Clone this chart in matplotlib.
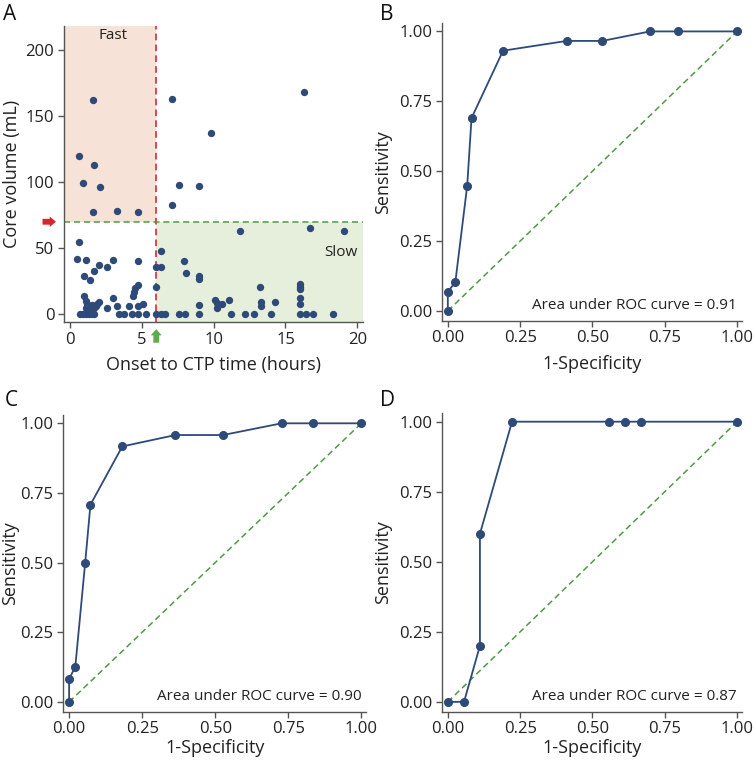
import numpy as np
import matplotlib.pyplot as plt

plt.rcParams['font.family'] = ['Open Sans', 'DejaVu Sans']

navy = "#2d4a78"
green_line = "#4f9a45"
red_line = "#d42a38"

# panel A: onset to CTP time (hours) vs core volume (mL)
onset_hours = [
    1.6, 0.6, 1.7, 0.9, 2.05, 1.6, 3.3, 4.7, 7.1, 16.3, 9.8, 7.6, 9.0, 7.1,
    0.6, 11.8, 16.7, 19.1,
    0.45, 1.1, 3.0, 4.7, 2.0, 2.6, 1.7, 1.0, 1.4,
    6.0, 6.3, 6.3, 6.0, 7.9, 8.1, 9.0, 9.0,
    4.7, 4.5, 4.45, 4.4, 1.0, 3.0, 5.1,
    13.2, 16.0, 16.0, 16.0, 16.0, 16.0,
    10.1, 10.2, 10.2, 10.6, 11.1, 13.3, 13.3, 14.3, 9.0,
    1.1, 1.2, 1.3, 1.1, 1.4, 1.5, 1.7, 1.8, 1.9, 2.0, 1.2,
    2.6, 3.3, 4.1, 4.7,
    0.7, 0.9, 1.1, 1.3, 1.5, 1.7, 3.4, 3.75, 4.3, 4.7, 5.3, 6.0, 6.3, 6.6,
    7.6, 8.0, 9.0, 11.2, 12.2, 12.8, 14.0, 16.0, 16.4, 16.9, 18.3,
]
core_volume = [
    162, 120, 113, 99, 96, 77, 78, 77, 163, 168, 137, 98, 97, 83,
    55, 63, 65, 63,
    42, 41, 41, 40, 37, 36, 33, 29, 26,
    36, 36, 48, 21, 40, 31, 29, 27,
    22, 20, 17, 14, 14, 12, 8,
    21, 23, 21, 19, 12, 8,
    11, 8.5, 5, 8, 11, 9.5, 6.5, 9, 7,
    10, 8, 6, 5, 4, 7, 5, 6.5, 8, 9, 3,
    5, 6, 6, 6,
    0, 0, 0, 0, 0, 0, 0, 0, 0, 0, 0, 0, 0, 0,
    0, 0, 0, 0, 0, 0, 0, 0, 0, 0, 0,
]
time_cut = 6
volume_cut = 70

# ROC curves
fpr_b = [0, 0, 0.026, 0.067, 0.082, 0.191, 0.411, 0.534, 0.699, 0.795, 1.0]
tpr_b = [0, 0.069, 0.103, 0.448, 0.69, 0.931, 0.966, 0.966, 1.0, 1.0, 1.0]
auc_b = "0.91"

fpr_c = [0, 0, 0.021, 0.055, 0.073, 0.182, 0.364, 0.527, 0.727, 0.836, 1.0]
tpr_c = [0, 0.083, 0.125, 0.5, 0.708, 0.917, 0.958, 0.958, 1.0, 1.0, 1.0]
auc_c = "0.90"

fpr_d = [0, 0.056, 0.111, 0.111, 0.222, 0.556, 0.611, 0.667, 1.0]
tpr_d = [0, 0, 0.2, 0.6, 1.0, 1.0, 1.0, 1.0, 1.0]
auc_d = "0.87"

roc_ticks = [0, 0.25, 0.5, 0.75, 1.0]


def style_axes(ax):
    for s in ["top", "right"]:
        ax.spines[s].set_visible(False)
    for s in ["left", "bottom"]:
        ax.spines[s].set_color("#555555")
        ax.spines[s].set_linewidth(1.0)
    ax.tick_params(direction="out", length=4.5, width=1, color="#555555",
                   labelsize=12, labelcolor="#222222", pad=2.5)


def roc_panel(ax, fpr, tpr, auc, xlabpad, ylabpad):
    ax.plot([0, 1], [0, 1], ls=(0, (4, 2.5)), color=green_line, lw=1.1)
    ax.plot(fpr, tpr, color=navy, lw=1.3, marker="o", ms=5.5)
    ax.set_xlim(-0.02, 1.016)
    ax.set_ylim(-0.035, 1.03)
    ax.set_xticks(roc_ticks)
    ax.set_yticks(roc_ticks)
    ax.set_xticklabels(["%.2f" % t for t in roc_ticks])
    ax.set_yticklabels(["%.2f" % t for t in roc_ticks])
    ax.set_xlabel("1-Specificity", fontsize=13, color="#222222", labelpad=xlabpad)
    ax.set_ylabel("Sensitivity", fontsize=13, color="#222222", labelpad=ylabpad)
    ax.text(1.0, 0.02, "Area under ROC curve = " + auc, ha="right", va="center",
            fontsize=11, color="#222222")
    style_axes(ax)


fig = plt.figure(figsize=(7.56, 7.6), dpi=100)
axA = fig.add_axes([0.0847, 0.5763, 0.3955, 0.3895])
axB = fig.add_axes([0.5847, 0.578, 0.3964, 0.3917])
axC = fig.add_axes([0.0837, 0.0636, 0.4004, 0.3904])
axD = fig.add_axes([0.5847, 0.0636, 0.3964, 0.3926])

# panel A
xlo, xhi = -0.42, 20.4
ylo, yhi = -5.8, 218
axA.fill_between([xlo, time_cut], volume_cut, yhi, color="#f6e2d6", lw=0)
axA.fill_between([time_cut, xhi], ylo, volume_cut, color="#e6eedc", lw=0)
axA.axvline(time_cut, color=red_line, ls=(0, (4, 2.5)), lw=1.2)
axA.axhline(volume_cut, color=green_line, ls=(0, (4, 2.5)), lw=1.1)
axA.scatter(onset_hours, core_volume, s=28, color=navy, zorder=3, lw=0)
axA.set_xlim(xlo, xhi)
axA.set_ylim(ylo, yhi)
axA.set_xticks([0, 5, 10, 15, 20])
axA.set_yticks([0, 50, 100, 150, 200])
axA.set_xlabel("Onset to CTP time (hours)", fontsize=13, color="#222222", labelpad=6)
axA.set_ylabel("Core volume (mL)", fontsize=13, color="#222222", labelpad=3)
axA.text(3.0, 211, "Fast", ha="center", va="center", fontsize=11, color="#222222")
axA.text(20.0, 47, "Slow", ha="right", va="center", fontsize=11, color="#222222")
style_axes(axA)

# threshold arrows outside the axes
axA.annotate("", xy=(-0.027, volume_cut), xycoords=("axes fraction", "data"),
             xytext=(-0.072, volume_cut), textcoords=("axes fraction", "data"),
             arrowprops=dict(arrowstyle="simple,head_length=0.45,head_width=0.75,tail_width=0.42",
                             color="#d7262b", shrinkA=0, shrinkB=0, lw=0),
             annotation_clip=False)
axA.annotate("", xy=(time_cut, -0.024), xycoords=("data", "axes fraction"),
             xytext=(time_cut, -0.07), textcoords=("data", "axes fraction"),
             arrowprops=dict(arrowstyle="simple,head_length=0.45,head_width=0.8,tail_width=0.42",
                             color="#5cae4c", shrinkA=0, shrinkB=0, lw=0),
             annotation_clip=False)

roc_panel(axB, fpr_b, tpr_b, auc_b, 6, 5)
roc_panel(axC, fpr_c, tpr_c, auc_c, 1, 1)
roc_panel(axD, fpr_d, tpr_d, auc_d, 1, 5)

for lab, x, y in [("A", 0.004, 0.995), ("B", 0.503, 0.995), ("C", 0.006, 0.487), ("D", 0.503, 0.487)]:
    fig.text(x, y, lab, fontsize=15, ha="left", va="top", color="#111111")

fig.savefig("out.png", dpi=100)
